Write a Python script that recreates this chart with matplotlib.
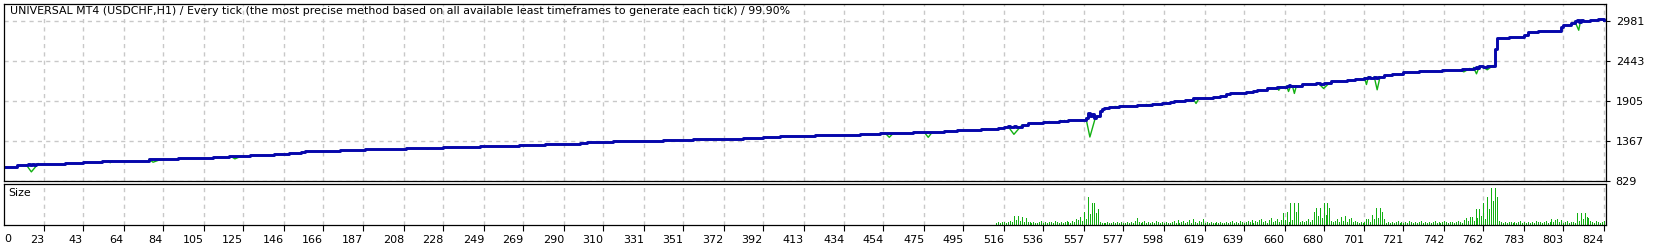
"""
MT4 strategy tester report -- balance / equity curve with lot size panel.
"""

import matplotlib.pyplot as plt
import numpy as np

TITLE = ("UNIVERSAL MT4 (USDCHF,H1) / Every tick (the most precise method based on "
         "all available least timeframes to generate each tick) / 99.90%")

# x axis: trade number
XTICKS = [23, 43, 64, 84, 105, 125, 146, 166, 187, 208, 228, 249, 269, 290, 310,
          331, 351, 372, 392, 413, 434, 454, 475, 495, 516, 536, 557, 577, 598,
          619, 639, 660, 680, 701, 721, 742, 762, 783, 803, 824]
YTICKS = [829, 1367, 1905, 2443, 2981]

# Balance after each step (trade number, balance)
BAL_TRADE = [3, 9, 15, 16, 17, 18, 19, 21, 34, 43, 53, 65, 77, 92, 110, 118, 129,
             141, 149, 155, 157, 175, 188, 209, 228, 247, 267, 280, 298, 302, 315,
             341, 356, 382, 392, 401, 419, 442, 452, 469, 485, 492, 504, 513, 516,
             518, 519, 521, 522, 525, 528, 536, 544, 549, 558, 559, 560, 561, 562,
             563, 564, 565, 566, 567, 570, 575, 584, 592, 597, 601, 603, 609, 613,
             617, 623, 627, 630, 632, 640, 644, 646, 651, 656, 661, 662, 663, 664,
             669, 676, 678, 680, 684, 692, 696, 701, 703, 704, 706, 707, 708, 711,
             715, 721, 729, 741, 751, 757, 758, 759, 760, 762, 764, 767, 768, 769,
             775, 783, 785, 790, 802, 803, 807, 809, 810, 811, 812, 813, 817, 821,
             824]
BAL_VALUE = [1017, 1036, 1049, 1036, 1049, 1040, 1055, 1049, 1063, 1076, 1090, 1098,
             1112, 1125, 1139, 1152, 1166, 1183, 1193, 1206, 1220, 1233, 1247, 1260,
             1274, 1287, 1301, 1314, 1328, 1341, 1355, 1368, 1382, 1395, 1409, 1422,
             1436, 1450, 1463, 1477, 1490, 1504, 1517, 1531, 1544, 1556, 1544, 1556,
             1544, 1571, 1604, 1621, 1635, 1648, 1665, 1739, 1700, 1720, 1670, 1690,
             1700, 1760, 1788, 1806, 1824, 1833, 1851, 1860, 1874, 1887, 1901, 1914,
             1932, 1936, 1950, 1963, 1986, 2004, 2017, 2036, 2050, 2067, 2081, 2099,
             2115, 2095, 2099, 2126, 2144, 2130, 2140, 2162, 2176, 2189, 2212, 2225,
             2205, 2225, 2210, 2225, 2247, 2261, 2288, 2301, 2315, 2334, 2347, 2360,
             2340, 2365, 2352, 2370, 2374, 2600, 2743, 2757, 2788, 2824, 2842, 2888,
             2915, 2946, 2969, 2985, 2965, 2985, 2977, 2991, 3000, 2983]

# Equity drawdowns: start trade, trade at low, end trade, equity low
DIP_START = [14, 56, 77, 119, 168, 219, 229, 268, 317, 345, 363, 455, 475, 505, 518,
             537, 545, 558, 573, 589, 613, 656, 661, 664, 677, 701, 706, 750, 757,
             762, 809]
DIP_AT = [16.5, 57, 79, 121, 169, 220, 231, 269, 318, 346, 364, 457, 477, 506, 521,
          538, 546, 560, 575, 590, 614.5, 657, 662, 665, 680, 702, 707.5, 752, 758.5,
          764, 811]
DIP_END = [20, 58, 83, 124, 170, 221, 233, 271, 319, 347, 365, 459, 479, 507, 525,
           539, 547, 563, 577, 591, 616, 658, 663, 666, 683, 703, 709, 755, 760,
           767, 812]
DIP_LOW = [945, 1068, 1075, 1120, 1215, 1250, 1265, 1290, 1345, 1360, 1375, 1410,
           1410, 1505, 1450, 1610, 1625, 1414, 1820, 1845, 1865, 2043, 2026, 2000,
           2067, 2120, 2049, 2290, 2264, 2318, 2850]

# Lot size per trade, starting at trade 512
SIZE_FIRST_TRADE = 512
SIZE = [1, 2, 1, 2, 2, 1, 2, 3, 2,
        8, 4, 8, 3, 7, 2, 6, 2,
        2, 1, 2, 1, 1, 2, 3, 1, 2, 1, 2, 2, 1, 3, 2, 1, 2, 1, 2, 3, 2, 1,
        3, 2, 5, 4, 7, 3, 12, 5, 27, 10, 21, 21, 11, 15, 2, 1,
        1, 1, 2, 1, 1, 2, 1, 2, 1, 2, 1, 1, 2, 1,
        2, 1, 3, 6, 2, 1, 2, 3, 1, 2, 1, 2, 1, 3, 2, 1, 2, 1, 2, 1,
        1, 2, 3, 1, 4, 1, 2, 3, 1, 2, 4, 1, 5, 2, 1, 3, 2, 5, 1, 2,
        1, 2, 1, 1, 2, 1, 2, 1, 1, 2, 1, 2, 3, 1, 2, 1, 3, 2, 1, 2,
        3, 2, 4, 1, 3, 2, 4, 5, 2, 3, 1, 4, 6, 2, 3, 5, 2, 4,
        11, 4, 12, 2, 21, 4, 21, 12, 21, 2, 3,
        2, 3, 5, 2, 4,
        12, 16, 8, 16, 6, 21, 9, 21, 16, 3,
        2, 3, 5, 2, 7, 3, 8, 2, 5, 6, 2, 3, 2, 1, 2, 1,
        2, 5, 5, 2, 9, 5, 16, 6, 16, 12, 5,
        1, 2, 1, 2, 1, 2, 3, 1, 2, 1, 2, 1, 3, 2, 1, 2, 1, 2, 3, 1, 2, 1, 2, 1,
        2, 3, 1, 2, 1, 2, 3, 2, 1, 2,
        2, 1, 2, 3, 2, 1,
        4, 6, 3, 7, 7, 3, 15, 6, 15, 8, 21, 5, 27, 15, 36, 23, 36, 27, 3,
        2, 1, 2, 1, 2, 2, 1, 2, 1, 2, 3, 1, 2, 1, 2, 1, 2, 1, 3, 2, 2, 1, 2, 3,
        1, 2, 5, 2, 4, 5, 2, 4, 1, 2, 3, 1, 2, 2, 1,
        11, 3, 11, 5, 11, 7, 6, 3, 2, 1, 3, 2, 1, 2, 3, 2]

BLUE = "#0606ac"
GREEN = "#12b012"
GRID = "#c8c8c8"
W, H = 1661, 245


def main():
    plt.rcParams["font.family"] = "DejaVu Sans"
    fig = plt.figure(figsize=(W / 100, H / 100), dpi=100)
    ax = fig.add_axes([4 / W, 64.5 / H, 1602 / W, 176 / H])
    ax2 = fig.add_axes([4 / W, 20 / H, 1602 / W, 41.5 / H])

    bal_t = np.array(BAL_TRADE)
    bal_v = np.array(BAL_VALUE)

    # equity: same as balance, with drawdown spikes
    ax.step(bal_t, bal_v, where="post", color=GREEN, lw=1)
    for s, a, e, low in zip(DIP_START, DIP_AT, DIP_END, DIP_LOW):
        vs = bal_v[max(np.searchsorted(bal_t, s, side="right") - 1, 0)]
        ve = bal_v[max(np.searchsorted(bal_t, e, side="right") - 1, 0)]
        ax.plot([s, a, e], [vs, low, ve], color=GREEN, lw=1)
    ax.step(bal_t, bal_v, where="post", color=BLUE, lw=2.1)

    xlim = (2.46, 825.0)
    for a in (ax, ax2):
        a.set_xlim(*xlim)
        a.set_xticks(XTICKS)
        a.grid(True, axis="x", color=GRID, linestyle=(0, (3, 3)), lw=1)
        a.set_axisbelow(True)
        for sp in a.spines.values():
            sp.set_color("black")
            sp.set_linewidth(0.9)

    ax.set_ylim(829, 829 + 176 / 40 * 538)
    ax.set_yticks(YTICKS)
    ax.grid(True, axis="y", color=GRID, linestyle=(0, (3, 3)), lw=1)
    ax.yaxis.tick_right()
    ax.tick_params(axis="y", length=3, pad=4, labelsize=8)
    ax.tick_params(axis="x", length=0, labelbottom=False)
    ax.text(6 / 1602, 1 - 7 / 176, TITLE, transform=ax.transAxes,
            fontsize=7.9, va="center", ha="left")

    trades = np.arange(SIZE_FIRST_TRADE, SIZE_FIRST_TRADE + len(SIZE))
    ax2.vlines(trades, 0, SIZE, color=GREEN, linewidth=0.5, antialiased=False)
    ax2.set_ylim(-1, 41)
    ax2.set_yticks([])
    ax2.tick_params(axis="x", length=4, pad=3, labelsize=8)
    ax2.set_xticklabels([str(t) for t in XTICKS])
    for lbl in ax2.get_xticklabels():
        lbl.set_ha("right")
    ax2.text(4 / 1602, 1 - 10 / 42, "Size", transform=ax2.transAxes,
             fontsize=7.9, va="center", ha="left")
    ax2.text(0.5 / 1602, -14 / 42, "0", transform=ax2.transAxes,
             fontsize=8, va="center", ha="left")

    fig.savefig("out.png", dpi=100)


if __name__ == "__main__":
    main()
